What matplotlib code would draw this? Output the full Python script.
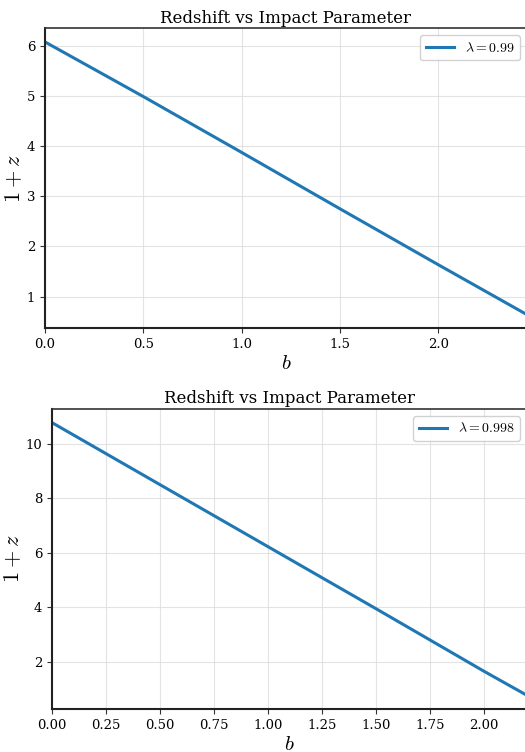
import matplotlib
matplotlib.use("Agg")
import matplotlib.pyplot as plt

plt.rcParams['font.family'] = ['DejaVu Serif']
plt.rcParams['mathtext.fontset'] = 'cm'

# values
b_top = [0.0, 0.5, 1.0, 1.5, 2.0, 2.45]
z_top = [6.08, 4.99, 3.875, 2.75, 1.634, 0.64]
lam_top = "0.99"

b_bot = [0.0, 0.5, 1.0, 1.5, 2.0, 2.2]
z_bot = [10.79, 8.51, 6.23, 3.95, 1.65, 0.76]
lam_bot = "0.998"

fig = plt.figure(figsize=(5.25, 7.52), dpi=100)
ax1 = fig.add_axes([45 / 525, (752 - 328.3) / 752, (527 - 45) / 525, 300 / 752])
ax2 = fig.add_axes([52 / 525, (752 - 709) / 752, (527 - 52) / 525, 300 / 752])

for ax, b, z, lam in [(ax1, b_top, z_top, lam_top), (ax2, b_bot, z_bot, lam_bot)]:
    ax.plot(b, z, color="#1f77b4", lw=2.2, label=r"$\lambda = " + lam + "$")
    ax.set_xlim(0, max(b))
    ax.margins(y=0.05)
    ax.grid(True, color="#dddddd", lw=0.8, alpha=0.8)
    ax.set_title("Redshift vs Impact Parameter", fontsize=12, pad=4)
    ax.set_xlabel(r"$b$", fontsize=15, labelpad=2)
    ax.set_ylabel(r"$1 + z$", fontsize=16, labelpad=1)
    ax.tick_params(labelsize=9.5, color="#333333")
    for s in ["left", "bottom"]:
        ax.spines[s].set_linewidth(1.5)
        ax.spines[s].set_color("#222222")
    ax.spines["top"].set_linewidth(1.2)
    ax.spines["top"].set_color("#333333")
    ax.spines["right"].set_visible(False)
    ax.legend(loc="upper right", fontsize=10, framealpha=0.9, edgecolor="#cccccc")

fig.savefig("out.png", dpi=100)
